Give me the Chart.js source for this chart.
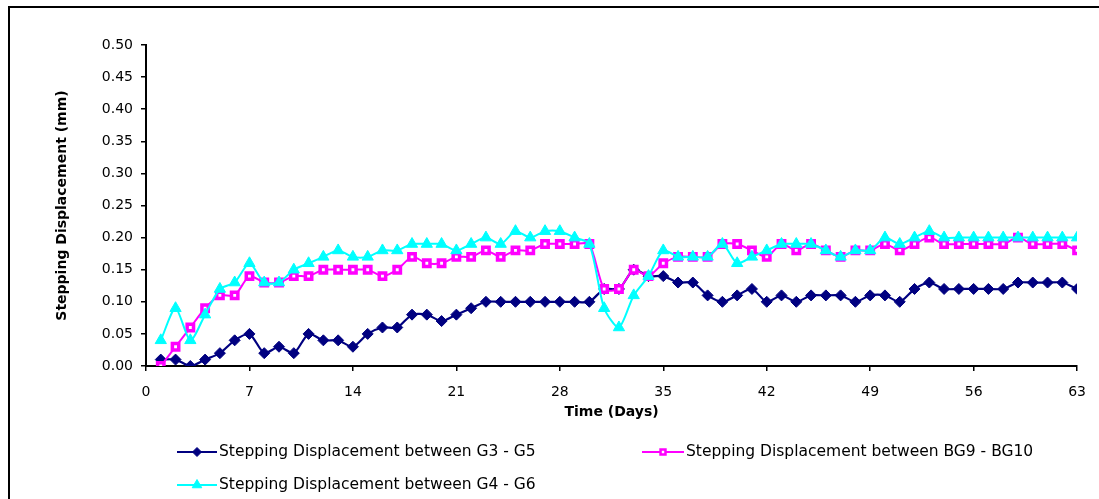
<!DOCTYPE html>
<html>
<head>
<meta charset="utf-8">
<script src="https://cdn.jsdelivr.net/npm/chart.js@4.4.1/dist/chart.umd.min.js"></script>
<style>
  html, body { margin: 0; padding: 0; background: #fff; overflow: hidden; }
  #wrap { position: relative; width: 1099px; height: 499px; }
  #frame { position: absolute; left: 8px; top: 6px; width: 1200px; height: 600px;
           border-left: 2px solid #000; border-top: 2px solid #000; pointer-events: none; }
  canvas { position: absolute; left: 0; top: 0; }
</style>
</head>
<body>
<div id="wrap">
  <canvas id="c" width="1099" height="499"></canvas>
  <div id="frame"></div>
</div>
<script>
const days = Array.from({length: 63}, (_, i) => i + 1);
const xTicks = [0, 7, 14, 21, 28, 35, 42, 49, 56, 63];
const yTicks = [0, 0.05, 0.10, 0.15, 0.20, 0.25, 0.30, 0.35, 0.40, 0.45, 0.50];

const seriesNames = [
  'Stepping Displacement between G3 - G5',
  'Stepping Displacement between BG9 - BG10',
  'Stepping Displacement between G4 - G6'
];

const g3g5 = [0.01,0.01,0.00,0.01,0.02,0.04,0.05,0.02,0.03,0.02,
              0.05,0.04,0.04,0.03,0.05,0.06,0.06,0.08,0.08,0.07,
              0.08,0.09,0.10,0.10,0.10,0.10,0.10,0.10,0.10,0.10,
              0.12,0.12,0.15,0.14,0.14,0.13,0.13,0.11,0.10,0.11,
              0.12,0.10,0.11,0.10,0.11,0.11,0.11,0.10,0.11,0.11,
              0.10,0.12,0.13,0.12,0.12,0.12,0.12,0.12,0.13,0.13,
              0.13,0.13,0.12];

const bg9bg10 = [0.00,0.03,0.06,0.09,0.11,0.11,0.14,0.13,0.13,0.14,
                 0.14,0.15,0.15,0.15,0.15,0.14,0.15,0.17,0.16,0.16,
                 0.17,0.17,0.18,0.17,0.18,0.18,0.19,0.19,0.19,0.19,
                 0.12,0.12,0.15,0.14,0.16,0.17,0.17,0.17,0.19,0.19,
                 0.18,0.17,0.19,0.18,0.19,0.18,0.17,0.18,0.18,0.19,
                 0.18,0.19,0.20,0.19,0.19,0.19,0.19,0.19,0.20,0.19,
                 0.19,0.19,0.18];

const g4g6 = [0.04,0.09,0.04,0.08,0.12,0.13,0.16,0.13,0.13,0.15,
              0.16,0.17,0.18,0.17,0.17,0.18,0.18,0.19,0.19,0.19,
              0.18,0.19,0.20,0.19,0.21,0.20,0.21,0.21,0.20,0.19,
              0.09,0.06,0.11,0.14,0.18,0.17,0.17,0.17,0.19,0.16,
              0.17,0.18,0.19,0.19,0.19,0.18,0.17,0.18,0.18,0.20,
              0.19,0.20,0.21,0.20,0.20,0.20,0.20,0.20,0.20,0.20,
              0.20,0.20,0.20];

const FONT = "'DejaVu Sans', 'Liberation Sans', Arial, sans-serif";

function pts(vals) { return days.map((d, i) => ({x: d, y: vals[i]})); }

const datasets = [
  { label: seriesNames[0], data: pts(g3g5), borderColor: '#000080', backgroundColor: '#000080',
    pointStyle: 'rectRot', pointRadius: 5.5, pointBorderWidth: 1, pointBackgroundColor: '#000080',
    pointBorderColor: '#000080', borderWidth: 2.2, tension: 0.25, order: 3 },
  { label: seriesNames[1], data: pts(bg9bg10), borderColor: '#FF00FF', backgroundColor: '#FF00FF',
    pointStyle: 'rect', pointRadius: 4.5, pointBorderWidth: 3.5, pointBackgroundColor: '#FFFFFF',
    pointBorderColor: '#FF00FF', borderWidth: 2, tension: 0.25, order: 2 },
  { label: seriesNames[2], data: pts(g4g6), borderColor: '#00FFFF', backgroundColor: '#00FFFF',
    pointStyle: 'triangle', pointRadius: 6.5, pointBorderWidth: 1, pointBackgroundColor: '#00FFFF',
    pointBorderColor: '#00FFFF', borderWidth: 2, tension: 0.25, order: 1 }
];

const legendPos = [
  {x1: 177, x2: 217, y: 452},
  {x1: 642, x2: 684, y: 452},
  {x1: 177, x2: 217, y: 485}
];

const legendPlugin = {
  id: 'customLegend',
  afterDraw(chart) {
    const ctx = chart.ctx;
    ctx.save();
    chart.data.datasets.forEach((ds, i) => {
      const p = legendPos[i];
      ctx.strokeStyle = ds.borderColor;
      ctx.lineWidth = 2;
      ctx.beginPath();
      ctx.moveTo(p.x1, p.y);
      ctx.lineTo(p.x2, p.y);
      ctx.stroke();
      const r = i === 1 ? 3.5 : ds.pointRadius - 1;
      const opts = { pointStyle: ds.pointStyle, radius: r, rotation: 0, borderWidth: i === 1 ? 2.5 : 1 };
      ctx.fillStyle = ds.pointBackgroundColor;
      ctx.strokeStyle = ds.pointBorderColor;
      ctx.lineWidth = opts.borderWidth;
      Chart.helpers.drawPoint(ctx, opts, (p.x1 + p.x2) / 2, p.y);
      ctx.fillStyle = '#000';
      ctx.font = "15.5px " + FONT;
      ctx.textBaseline = 'middle';
      ctx.textAlign = 'left';
      ctx.fillText(ds.label, p.x2 + 2, p.y);
    });
    ctx.restore();
  }
};

new Chart(document.getElementById('c'), {
  type: 'line',
  data: { datasets },
  plugins: [legendPlugin],
  options: {
    responsive: false,
    devicePixelRatio: 1,
    animation: false,
    events: [],
    layout: { autoPadding: false, padding: { top: 45, right: 18, bottom: 77, left: 50 } },
    plugins: { legend: { display: false }, tooltip: { enabled: false } },
    scales: {
      x: {
        type: 'linear', min: 0, max: 63,
        afterBuildTicks(scale) { scale.ticks = xTicks.map(v => ({value: v})); },
        afterFit(scale) { scale.height = 56; },
        ticks: { color: '#000', font: { family: FONT, size: 14 }, padding: 13, maxRotation: 0, autoSkip: false },
        grid: { display: true, drawOnChartArea: false, drawTicks: true, tickLength: 5, color: '#000', lineWidth: 1.5 },
        border: { display: true, color: '#000', width: 2 },
        title: { display: true, text: 'Time (Days)', color: '#000',
                 font: { family: FONT, size: 14, weight: 'bold' }, padding: { top: 0, bottom: 1 } }
      },
      y: {
        min: 0, max: 0.5,
        afterBuildTicks(scale) { scale.ticks = yTicks.map(v => ({value: v})); },
        afterFit(scale) { scale.width = 96; },
        ticks: { color: '#000', font: { family: FONT, size: 14 }, padding: 8,
                 callback: v => Number(v).toFixed(2) },
        grid: { display: true, drawOnChartArea: false, drawTicks: true, tickLength: 5, color: '#000', lineWidth: 1.5 },
        border: { display: true, color: '#000', width: 2 },
        title: { display: true, text: 'Stepping Displacement (mm)', color: '#000',
                 font: { family: FONT, size: 14, weight: 'bold' }, padding: 4 }
      }
    }
  }
});
</script>
</body>
</html>
